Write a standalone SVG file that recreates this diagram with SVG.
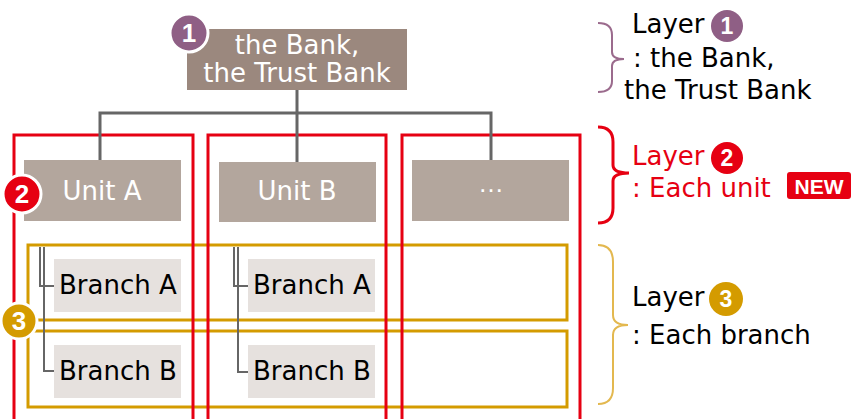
<svg xmlns="http://www.w3.org/2000/svg" width="853" height="419" viewBox="0 0 853 419">
<style>
.t{font-family:"DejaVu Sans","Verdana",sans-serif;font-size:26px}
.w{fill:#fff}
.k{fill:#000}
.r{fill:#e60012}
.num{font-family:"Liberation Sans",Arial,sans-serif;font-weight:bold;fill:#fff;text-anchor:middle}
.conn{fill:none;stroke:#666;stroke-width:3}
.bconn{fill:none;stroke:#666;stroke-width:2}
.redbox{fill:none;stroke:#e60012;stroke-width:3}
.goldbox{fill:none;stroke:#d49b00;stroke-width:3}
</style>
<rect width="853" height="419" fill="#fff"/>
<g id="layer3-frames">
<rect class="goldbox" x="28" y="245" width="539" height="75"/>
<rect class="goldbox" x="28" y="331" width="539" height="76"/>
</g>
<g id="layer2-frames">
<rect class="redbox" x="14" y="135" width="179" height="300"/>
<rect class="redbox" x="208" y="135" width="178" height="300"/>
<rect class="redbox" x="402" y="135" width="178" height="300"/>
</g>
<g id="connectors">
<path class="conn" d="M297 90V113M100 160V113H491V160M297 113V162"/>
<path class="bconn" d="M40 247V286H54M44 247V371H54"/>
<path class="bconn" d="M234 247V286H248M238 247V372H248"/>
</g>
<g id="bank">
<rect x="187" y="29" width="220" height="61" fill="#9b887e"/>
<text class="t w" x="297" y="54" text-anchor="middle">the Bank,</text>
<text class="t w" x="297" y="82" text-anchor="middle">the Trust Bank</text>
</g>
<g id="badge1">
<circle cx="189" cy="33" r="19" fill="#8f5f85" stroke="#fff" stroke-width="3"/>
<text class="num" x="189" y="42" font-size="26">1</text>
</g>
<g id="unitA">
<rect x="24" y="160" width="157" height="61" fill="#b3a69d"/>
<text class="t w" x="102" y="200" text-anchor="middle">Unit A</text>
</g>
<g id="unitB">
<rect x="219" y="162" width="157" height="60" fill="#b3a69d"/>
<text class="t w" x="297" y="200" text-anchor="middle">Unit B</text>
</g>
<g id="unitEtc">
<rect x="412" y="160" width="157" height="61" fill="#b3a69d"/>
<text class="w" x="491" y="192" text-anchor="middle" font-family="Liberation Sans, Arial, sans-serif" font-size="26">…</text>
</g>
<g id="badge2">
<circle cx="22" cy="194" r="19" fill="#e60012" stroke="#fff" stroke-width="3"/>
<text class="num" x="22" y="203" font-size="26">2</text>
</g>
<g id="branchA1">
<rect x="54" y="259" width="127" height="53" fill="#e6e1de"/>
<text class="t k" x="59" y="294">Branch A</text>
</g>
<g id="branchB1">
<rect x="54" y="345" width="127" height="53" fill="#e6e1de"/>
<text class="t k" x="59" y="380">Branch B</text>
</g>
<g id="branchA2">
<rect x="248" y="259" width="127" height="53" fill="#e6e1de"/>
<text class="t k" x="253" y="294">Branch A</text>
</g>
<g id="branchB2">
<rect x="248" y="345" width="127" height="53" fill="#e6e1de"/>
<text class="t k" x="253" y="380">Branch B</text>
</g>
<g id="badge3">
<circle cx="19" cy="321" r="18" fill="#d49b00" stroke="#fff" stroke-width="3"/>
<text class="num" x="19" y="330" font-size="26">3</text>
</g>
<g id="legend1">
<path d="M598 23Q612 23 612 35V52Q612 59 624 59Q612 59 612 66V81Q612 92 598 92" fill="none" stroke="#9b6b8d" stroke-width="2"/>
<text class="t k" x="632" y="33">Layer</text>
<circle cx="727" cy="26" r="16" fill="#8f5f85"/>
<text class="num" x="727" y="34" font-size="23">1</text>
<text class="t k" x="633" y="67">: the Bank,</text>
<text class="t k" x="624" y="99">the Trust Bank</text>
</g>
<g id="legend2">
<path d="M598 127Q613 127 613 142V165Q613 173 629 173Q613 173 613 181V208Q613 223 598 223" fill="none" stroke="#e60012" stroke-width="3"/>
<text class="t r" x="632" y="165">Layer</text>
<circle cx="727" cy="158" r="16" fill="#e60012"/>
<text class="num" x="727" y="166" font-size="23">2</text>
<text class="t r" x="632" y="197">: Each unit</text>
<rect x="787" y="172" width="64" height="27" rx="3" fill="#e60012"/>
<text class="num" x="819" y="194" font-size="21">NEW</text>
</g>
<g id="legend3">
<path d="M598 245Q613 245 613 262V315Q613 325 628 325Q613 325 613 335V388Q613 404 598 404" fill="none" stroke="#e3b84f" stroke-width="2"/>
<text class="t k" x="632" y="306">Layer</text>
<circle cx="726" cy="299" r="17" fill="#d49b00"/>
<text class="num" x="726" y="307" font-size="23">3</text>
<text class="t k" x="632" y="344">: Each branch</text>
</g>
</svg>
